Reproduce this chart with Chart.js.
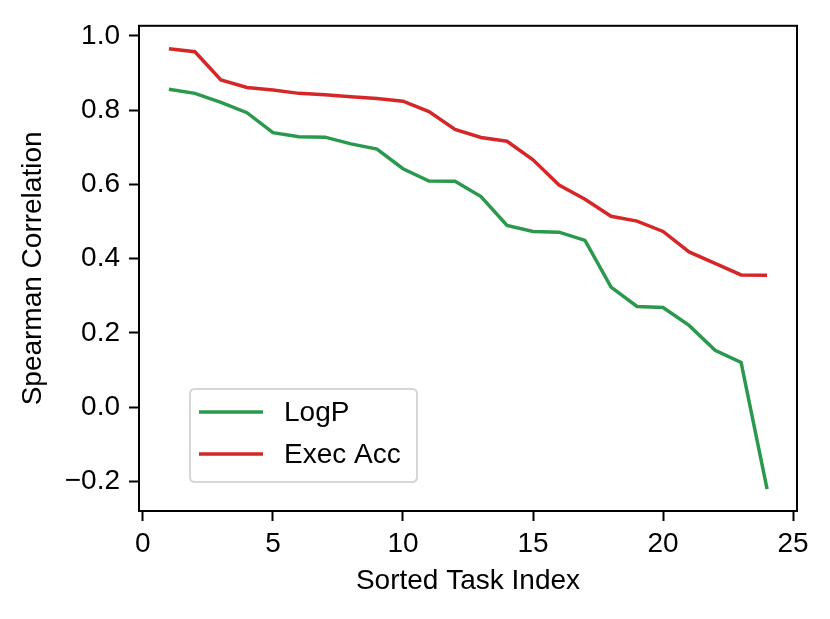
<!DOCTYPE html>
<html>
<head>
<meta charset="utf-8">
<script src="https://cdn.jsdelivr.net/npm/chart.js@4/dist/chart.umd.min.js"></script>
<style>
  html, body { margin: 0; padding: 0; background: #ffffff; }
  canvas { display: block; }
</style>
</head>
<body>
<canvas id="c" width="830" height="619"></canvas>
<script>
const taskIndex = [1,2,3,4,5,6,7,8,9,10,11,12,13,14,15,16,17,18,19,20,21,22,23,24];
const logP = [0.856,0.845,0.821,0.793,0.739,0.728,0.727,0.709,0.695,0.642,0.609,0.608,0.567,0.489,0.473,0.471,0.449,0.323,0.271,0.268,0.220,0.153,0.120,-0.221];
const execAcc = [0.965,0.957,0.881,0.861,0.854,0.845,0.841,0.836,0.831,0.824,0.796,0.748,0.726,0.716,0.666,0.598,0.560,0.514,0.501,0.473,0.418,0.387,0.356,0.355];
const seriesNames = ["LogP", "Exec Acc"];
const xTickValues = [0,5,10,15,20,25];
const yTickValues = [-0.2,0.0,0.2,0.4,0.6,0.8,1.0];
const xTitle = "Sorted Task Index";
const yTitle = "Spearman Correlation";

const FONT = "'Liberation Sans', Arial, Helvetica, sans-serif";
const GREEN = "#2b994d";
const RED = "#d62728";

function fmtY(v) {
  const s = Math.abs(v).toFixed(1);
  return (v < -1e-9 ? "\u2212" : "") + s;
}

const framePlugin = {
  id: "frame",
  afterDraw(chart) {
    const ctx = chart.ctx;
    const a = chart.chartArea;
    ctx.save();
    ctx.strokeStyle = "#000";
    ctx.lineWidth = 2;
    ctx.strokeRect(a.left, a.top, a.right - a.left, a.bottom - a.top);

    // legend box (bottom-left inside the axes)
    const bx = a.left + 51, by = a.bottom - 122, bw = 227, bh = 93, r = 5;
    ctx.beginPath();
    ctx.moveTo(bx + r, by);
    ctx.lineTo(bx + bw - r, by);
    ctx.quadraticCurveTo(bx + bw, by, bx + bw, by + r);
    ctx.lineTo(bx + bw, by + bh - r);
    ctx.quadraticCurveTo(bx + bw, by + bh, bx + bw - r, by + bh);
    ctx.lineTo(bx + r, by + bh);
    ctx.quadraticCurveTo(bx, by + bh, bx, by + bh - r);
    ctx.lineTo(bx, by + r);
    ctx.quadraticCurveTo(bx, by, bx + r, by);
    ctx.closePath();
    ctx.fillStyle = "rgba(255,255,255,0.85)";
    ctx.fill();
    ctx.strokeStyle = "#d6d6d6";
    ctx.lineWidth = 2;
    ctx.stroke();

    ctx.font = "28px " + FONT;
    ctx.textBaseline = "middle";
    ctx.textAlign = "left";
    chart.data.datasets.forEach((ds, i) => {
      const cy = by + 23 + i * 42;
      ctx.strokeStyle = ds.borderColor;
      ctx.lineWidth = 3.5;
      ctx.beginPath();
      ctx.moveTo(bx + 9, cy);
      ctx.lineTo(bx + 73, cy);
      ctx.stroke();
      ctx.fillStyle = "#000";
      ctx.fillText(ds.label, bx + 94, cy + 1);
    });
    ctx.restore();
  }
};

new Chart(document.getElementById("c"), {
  type: "line",
  data: {
    datasets: [
      {
        label: seriesNames[0],
        data: taskIndex.map((x, i) => ({ x: x, y: logP[i] })),
        borderColor: GREEN,
        backgroundColor: GREEN,
        borderWidth: 3.5,
        pointRadius: 0,
        tension: 0,
        fill: false
      },
      {
        label: seriesNames[1],
        data: taskIndex.map((x, i) => ({ x: x, y: execAcc[i] })),
        borderColor: RED,
        backgroundColor: RED,
        borderWidth: 3.5,
        pointRadius: 0,
        tension: 0,
        fill: false
      }
    ]
  },
  options: {
    responsive: false,
    animation: false,
    devicePixelRatio: 1,
    layout: { padding: { top: 22, right: 33, left: 0, bottom: 0 } },
    plugins: {
      legend: { display: false },
      tooltip: { enabled: false }
    },
    scales: {
      x: {
        type: "linear",
        min: -0.15,
        max: 25.15,
        afterBuildTicks(scale) { scale.ticks = xTickValues.map(v => ({ value: v })); },
        afterFit(scale) { scale.height = 108; },
        border: { display: false },
        grid: { drawOnChartArea: false, drawTicks: true, tickLength: 10, tickColor: "#000", tickWidth: 2 },
        ticks: {
          color: "#000",
          font: { family: FONT, size: 28 },
          padding: 6,
          maxRotation: 0,
          callback: v => String(v)
        },
        title: {
          display: true,
          text: xTitle,
          color: "#000",
          font: { family: FONT, size: 28 },
          padding: { top: 0, bottom: 21 }
        }
      },
      y: {
        type: "linear",
        min: -0.28,
        max: 1.027,
        afterBuildTicks(scale) { scale.ticks = yTickValues.map(v => ({ value: v })); },
        afterFit(scale) { scale.width = 139; },
        border: { display: false },
        grid: { drawOnChartArea: false, drawTicks: true, tickLength: 10, tickColor: "#000", tickWidth: 2 },
        ticks: {
          color: "#000",
          font: { family: FONT, size: 28 },
          padding: 9,
          callback: v => fmtY(v)
        },
        title: {
          display: true,
          text: yTitle,
          color: "#000",
          font: { family: FONT, size: 28 },
          padding: { top: 16, bottom: 0 }
        }
      }
    }
  },
  plugins: [framePlugin]
});
</script>
</body>
</html>
